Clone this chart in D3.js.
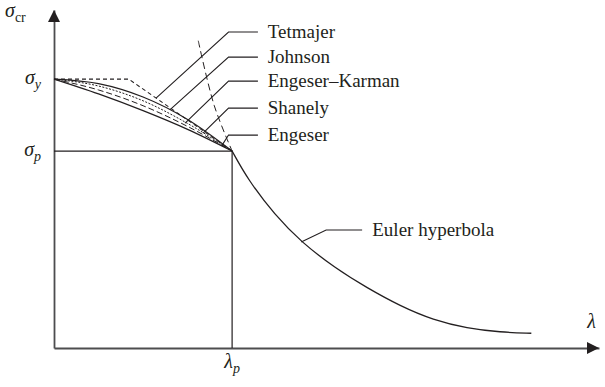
<!DOCTYPE html>
<html>
<head>
<meta charset="utf-8">
<script src="https://cdn.jsdelivr.net/npm/d3@7"></script>
<style>
  body { margin: 0; background: #fff; }
</style>
</head>
<body>
<div id="vis"></div>
<script>
const WIDTH = 605;
const HEIGHT = 387;
const FONT = "'Liberation Serif', 'DejaVu Serif', 'Times New Roman', serif";

// slenderness (lambda / lambda_p) and stress (sigma / sigma_p)
const lambdaP = 1;
const sigmaP = 1;
const sigmaY = 1.365;
const lambdaMax = 3.06;   // arrow tip of the x axis
const sigmaMax = 1.716;   // arrow tip of the y axis

const shortLambda = [0, 0.25, 0.5, 0.75, 1];
const johnson = [1.365, 1.342, 1.274, 1.16, 1];
const engeserKarman = [1.365, 1.33, 1.255, 1.14, 1];
const shanely = [1.365, 1.31, 1.23, 1.125, 1];
const engeser = [1.365, 1.29, 1.205, 1.11, 1];

const tetmajerLambda = [0, 0.42, 1];
const tetmajer = [1.365, 1.365, 1];

const eulerLambda = [1, 1.09, 1.24, 1.388, 1.578, 1.758, 1.944, 2.129, 2.32, 2.506, 2.68];
const euler = [1, 0.853, 0.675, 0.538, 0.406, 0.305, 0.213, 0.142, 0.1, 0.08, 0.075];
const eulerDashLambda = [0.81, 0.9, 1];
const eulerDash = [1.56, 1.23, 1];

// labels: anchor on the curve, elbow level, text
const labelNames = ["Tetmajer", "Johnson", "Engeser\u2013Karman", "Shanely", "Engeser"];
const labelAnchorLambda = [0.573, 0.652, 0.736, 0.837, 0.944];
const labelAnchorSigma = [1.269, 1.21, 1.142, 1.091, 1.03];
const labelLevel = [1.604, 1.477, 1.355, 1.218, 1.081];

const M = {left: 54, right: 6, top: 10, bottom: 39};

const svg = d3.select("#vis").append("svg")
    .attr("width", WIDTH).attr("height", HEIGHT)
    .attr("font-family", FONT);

const x = d3.scaleLinear().domain([0, lambdaMax]).range([M.left, WIDTH - M.right]);
const y = d3.scaleLinear().domain([0, sigmaMax]).range([HEIGHT - M.bottom, M.top]);

const ink = "#231f20";

// axes
svg.append("g")
    .attr("transform", `translate(0,${y(0)})`)
    .call(d3.axisBottom(x).tickValues([]).tickSizeOuter(0))
    .call(g => g.select(".domain").attr("stroke", "#4d4d4f").attr("stroke-width", 1.8));
svg.append("g")
    .attr("transform", `translate(${x(0)},0)`)
    .call(d3.axisLeft(y).tickValues([]).tickSizeOuter(0))
    .call(g => g.select(".domain").attr("stroke", "#4d4d4f").attr("stroke-width", 1.8));

// arrow heads
svg.append("path")
    .attr("d", `M${x(0)},${y(sigmaMax)} L${x(0) - 6},${y(sigmaMax) + 12} L${x(0) + 6},${y(sigmaMax) + 12} Z`)
    .attr("fill", ink);
svg.append("path")
    .attr("d", `M${x(lambdaMax)},${y(0)} L${x(lambdaMax) - 12},${y(0) - 6} L${x(lambdaMax) - 12},${y(0) + 6} Z`)
    .attr("fill", ink);

// lambda_p / sigma_p guides
svg.append("path")
    .attr("d", `M${x(0)},${y(sigmaP)} H${x(lambdaP)} V${y(0)}`)
    .attr("fill", "none").attr("stroke", ink).attr("stroke-width", 1.2);

const line = d3.line().x(d => x(d[0])).y(d => y(d[1]));
const smooth = d3.line().x(d => x(d[0])).y(d => y(d[1])).curve(d3.curveBasis);
const smoothMono = d3.line().x(d => x(d[0])).y(d => y(d[1])).curve(d3.curveMonotoneX);
const smoothY = d3.line().x(d => x(d[0])).y(d => y(d[1])).curve(d3.curveCatmullRom);

function draw(path, xs, ys, dash, w) {
    svg.append("path")
        .attr("d", path(d3.zip(xs, ys)))
        .attr("fill", "none")
        .attr("stroke", ink)
        .attr("stroke-width", w || 1.1)
        .attr("stroke-dasharray", dash || null);
}

draw(line, tetmajerLambda, tetmajer, "4,3");
draw(smoothMono, shortLambda, johnson, null, 1.2);
draw(smoothMono, shortLambda, engeserKarman, "2,1.5", 1);
draw(smoothMono, shortLambda, shanely, "6,3", 1);
draw(smoothMono, shortLambda, engeser, null, 1.2);
draw(smoothY, eulerDashLambda, eulerDash, "7,4", 1);
draw(smooth, eulerLambda, euler, null, 1.3);

// leaders for the short-column curves
const elbowLambda = 0.98;
const endLambda = 1.145;
const textLambda = 1.2;

labelNames.forEach((name, i) => {
    svg.append("path")
        .attr("d", `M${x(labelAnchorLambda[i])},${y(labelAnchorSigma[i])} L${x(elbowLambda)},${y(labelLevel[i])} H${x(endLambda)}`)
        .attr("fill", "none").attr("stroke", ink).attr("stroke-width", 1.1);
    svg.append("text")
        .attr("x", x(textLambda))
        .attr("y", y(labelLevel[i]))
        .attr("dy", "0.33em")
        .attr("fill", ink)
        .attr("font-size", 19)
        .text(name);
});

// Euler hyperbola leader
svg.append("path")
    .attr("d", `M${x(1.388)},${y(0.538)} L${x(1.528)},${y(0.599)} H${x(1.73)}`)
    .attr("fill", "none").attr("stroke", ink).attr("stroke-width", 1.1);
svg.append("text")
    .attr("x", x(1.787)).attr("y", y(0.599)).attr("dy", "0.33em")
    .attr("fill", ink)
    .attr("font-size", 19)
    .text("Euler hyperbola");

// symbol labels
function sym(xp, yp, main, sub, anchor, subRoman) {
    const t = svg.append("text")
        .attr("x", xp).attr("y", yp)
        .attr("text-anchor", anchor)
        .attr("fill", ink)
        .attr("font-size", 20);
    t.append("tspan").attr("font-style", "italic").text(main);
    t.append("tspan")
        .attr("dy", 5)
        .attr("font-size", 14)
        .attr("font-style", subRoman ? "normal" : "italic")
        .text(sub);
}

sym(5, 17, "\u03c3", "cr", "start", true);
sym(x(0) - 13, y(sigmaY) + 5, "\u03c3", "y", "end");
sym(x(0) - 13, y(sigmaP) + 5, "\u03c3", "p", "end");
sym(x(lambdaP), y(0) + 15 + 5, "\u03bb", "p", "middle");

svg.append("text")
    .attr("x", x(lambdaMax) - 3).attr("y", y(0) - 20)
    .attr("text-anchor", "end")
    .attr("fill", ink)
    .attr("font-size", 20).attr("font-style", "italic")
    .text("\u03bb");
</script>
</body>
</html>
